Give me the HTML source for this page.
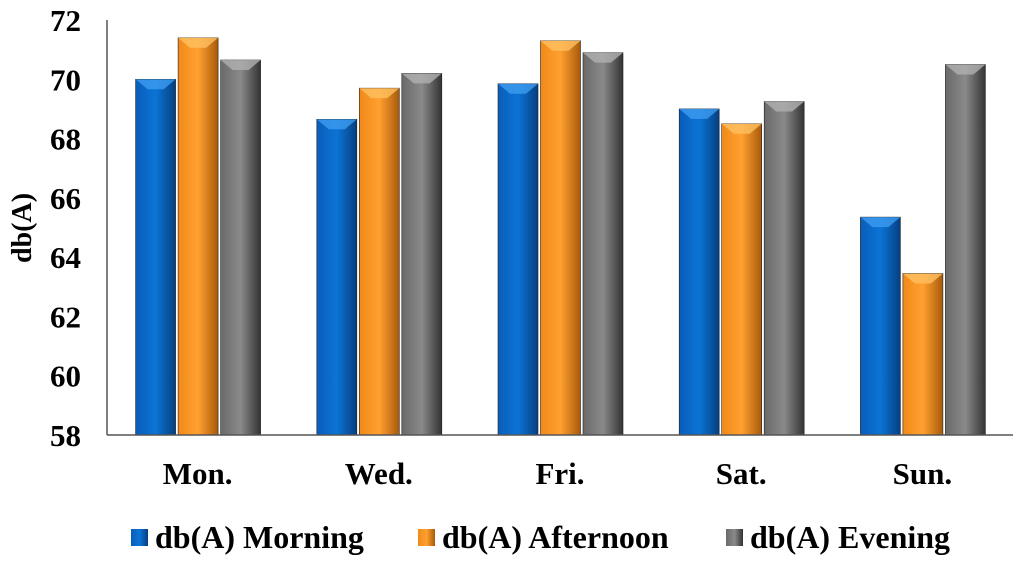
<!DOCTYPE html>
<html><head><meta charset="utf-8"><style>
body{margin:0;background:#fff;}
svg text{font-family:"Liberation Serif",serif;font-weight:bold;fill:#000;}
</style></head><body>
<svg id="chart" width="1024" height="567" xmlns="http://www.w3.org/2000/svg">
<defs>
<linearGradient id="g0" x1="0" x2="1"><stop offset="0" stop-color="#0a5db8"/><stop offset="0.5" stop-color="#0b74d6"/><stop offset="1" stop-color="#063f80"/></linearGradient>
<linearGradient id="g1" x1="0" x2="1"><stop offset="0" stop-color="#f08a1a"/><stop offset="0.5" stop-color="#ffa030"/><stop offset="1" stop-color="#a85a0a"/></linearGradient>
<linearGradient id="g2" x1="0" x2="1"><stop offset="0" stop-color="#6a6a6a"/><stop offset="0.5" stop-color="#8a8a8a"/><stop offset="1" stop-color="#333"/></linearGradient>
</defs>
<g id="bars"></g>
<g id="axes"></g>
<g id="legend"></g>
</svg>
<script>
const categories=["Mon.","Wed.","Fri.","Sat.","Sun."];
const morning=[70.0,68.65,69.85,69.0,65.35];
const afternoon=[71.4,69.7,71.3,68.5,63.45];
const evening=[70.65,70.2,70.9,69.25,70.5];
const seriesNames=["db(A) Morning","db(A) Afternoon","db(A) Evening"];
const yTicks=[58,60,62,64,66,68,70,72];
const NS="http://www.w3.org/2000/svg";
const x0=107,x1=1013,yTop=20,yBot=435,yMin=58,yMax=72;
const y=v=>yBot-(v-yMin)/(yMax-yMin)*(yBot-yTop);
const bw=(x1-x0)/categories.length;
const xc=i=>x0+bw*(i+0.5);
const tops=["#3d9cf0","#ffc060","#b0b0b0"];
function mk(tag,attrs,parent){const e=document.createElementNS(NS,tag);for(const k in attrs)e.setAttribute(k,attrs[k]);parent.appendChild(e);return e;}
const bars=document.getElementById('bars'),axes=document.getElementById('axes'),leg=document.getElementById('legend');
const series=[morning,afternoon,evening];
series.forEach((s,j)=>{s.forEach((v,i)=>{
 const bx=xc(i)-62+j*42.5, top=y(v);
 const r=mk('rect',{x:bx,y:top,width:40,height:yBot-top,fill:`url(#g${j})`,stroke:'#222','stroke-width':0.6},bars);
 
 
 const p=mk('polygon',{points:`${bx},${top} ${bx+40},${top} ${bx+28},${top+10} ${bx+12},${top+10}`,fill:tops[j],opacity:0.8},bars);
 
 
});});
const ax=mk('line',{x1:x0,y1:yTop,x2:x0,y2:yBot,stroke:'#555','stroke-width':1.5},axes);


const bx2=mk('line',{x1:x0,y1:yBot,x2:x1,y2:yBot,stroke:'#555','stroke-width':1.5},axes);


yTicks.forEach(t=>{const e=mk('text',{x:81,y:y(t)+11,'text-anchor':'end','font-size':31},axes);e.textContent=t;
 
 });
categories.forEach((c,i)=>{const e=mk('text',{x:xc(i),y:484,'text-anchor':'middle','font-size':31},axes);e.textContent=c;
 
 });
const yt=mk('text',{x:0,y:0,'text-anchor':'middle','font-size':28,transform:'translate(31,228) rotate(-90)'},axes);yt.textContent='db(A)';


const lx=[131,418,726];
seriesNames.forEach((n,j)=>{
 const g=mk('g',{},leg);
 
 
 mk('rect',{x:lx[j],y:529,width:17,height:17,fill:`url(#g${j})`},g);
 const t=mk('text',{x:lx[j]+24,y:548,'font-size':32},g);t.textContent=n;
});
</script>
</body></html>
